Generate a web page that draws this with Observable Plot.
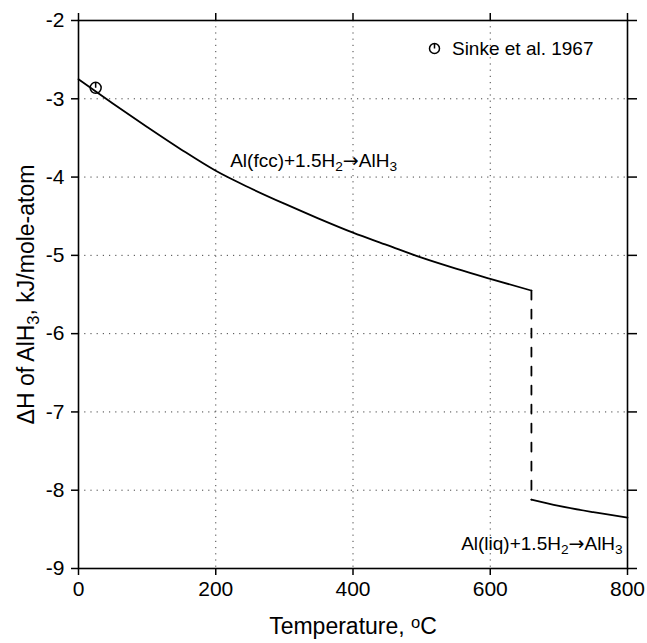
<!DOCTYPE html>
<html>
<head>
<meta charset="utf-8">
<script src="https://cdn.jsdelivr.net/npm/d3@7"></script>
<script src="https://cdn.jsdelivr.net/npm/@observablehq/plot@0.6"></script>
<style>
  html, body { margin: 0; padding: 0; background: #fff; }
  g[aria-label="x-axis tick label"], g[aria-label="y-axis tick label"] { font-size: 21px; }
</style>
</head>
<body>
<div id="chart"></div>
<script>
// ---- data ----
const fccT = [0, 50, 100, 150, 200, 250, 300, 350, 400, 450, 500, 550, 600, 660];
const fccH = [-2.75, -3.06, -3.36, -3.65, -3.92, -4.14, -4.34, -4.53, -4.71, -4.87, -5.03, -5.17, -5.30, -5.45];
const liqT = [660, 700, 750, 800];
const liqH = [-8.12, -8.20, -8.28, -8.35];
const sinkeT = [25];
const sinkeH = [-2.86];
const xTicks = [0, 200, 400, 600, 800];
const yTicks = [-9, -8, -7, -6, -5, -4, -3, -2];
const fccLabel = {T: 221, H: -3.79, text: "Al(fcc)+1.5H_{2}→AlH_{3}"};
const liqLabel = {T: 793, H: -8.686, text: "Al(liq)+1.5H_{2}→AlH_{3}"};
const legendText = "Sinke et al. 1967";
const xTitle = "Temperature, ^{o}C";
const yTitle = "ΔH of AlH_{3}, kJ/mole-atom";

// ---- tables built from the arrays ----
const fcc = fccT.map((t, i) => ({T: t, H: fccH[i]}));
const liq = liqT.map((t, i) => ({T: t, H: liqH[i]}));
const jump = [fcc[fcc.length - 1], liq[0]];
const sinke = sinkeT.map((t, i) => ({T: t, H: sinkeH[i]}));

// circle with a short vertical bar from centre to top
const barCircle = {
  draw(ctx, size) {
    const r = Math.sqrt(size / Math.PI);
    ctx.moveTo(r, 0);
    ctx.arc(0, 0, r, 0, 2 * Math.PI);
    ctx.moveTo(0, 0);
    ctx.lineTo(0, -r);
  }
};

const fmt = d => String(d);
const gridStyle = {stroke: "#444", strokeOpacity: 1, strokeWidth: 1, strokeDasharray: "1.2,5"};

const chart = Plot.plot({
  width: 647,
  height: 643,
  marginLeft: 78,
  marginRight: 20,
  marginTop: 20,
  marginBottom: 75,
  x: {domain: [0, 800]},
  y: {domain: [-9, -2]},
  style: {fontFamily: "'Liberation Sans', Arial, Helvetica, sans-serif", fontSize: "21px", background: "white", color: "black"},
  marks: [
    Plot.gridX(xTicks, gridStyle),
    Plot.gridY(yTicks, gridStyle),
    Plot.axisX({ticks: xTicks, tickSize: 7, tickPadding: 6, tickFormat: fmt, label: null, strokeWidth: 1.5, fontSize: 21}),
    Plot.axisX({anchor: "top", ticks: xTicks, tickSize: 8, tickFormat: () => "", label: null, strokeWidth: 1.5}),
    Plot.axisY({ticks: yTicks, tickSize: 7, tickPadding: 7, tickFormat: fmt, label: null, strokeWidth: 1.5, fontSize: 21}),
    Plot.axisY({anchor: "right", ticks: yTicks, tickSize: 9, tickFormat: () => "", label: null, strokeWidth: 1.5}),
    Plot.frame({stroke: "black", strokeWidth: 1.6}),
    Plot.line(fcc, {x: "T", y: "H", stroke: "black", strokeWidth: 1.8, curve: "monotone-x"}),
    Plot.line(jump, {x: "T", y: "H", stroke: "black", strokeWidth: 1.8, strokeDasharray: "9,10"}),
    Plot.line(liq, {x: "T", y: "H", stroke: "black", strokeWidth: 1.8, curve: "monotone-x"}),
    Plot.dot(sinke, {x: "T", y: "H", r: 5.5, symbol: barCircle, stroke: "black", strokeWidth: 1.5, fill: "none"}),
    // legend
    Plot.dot([legendText], {frameAnchor: "top-right", dx: -193, dy: 28, r: 5, symbol: barCircle, stroke: "black", strokeWidth: 1.5, fill: "none"}),
    Plot.text([legendText], {frameAnchor: "top-right", dx: -34, dy: 28, textAnchor: "end", lineAnchor: "middle", fontSize: 19}),
    // curve labels
    Plot.text([fccLabel], {x: "T", y: "H", text: "text", textAnchor: "start", lineAnchor: "middle", fontSize: 19}),
    Plot.text([liqLabel], {x: "T", y: "H", text: "text", textAnchor: "end", lineAnchor: "middle", fontSize: 19}),
    // axis titles
    Plot.text([xTitle], {frameAnchor: "bottom", dy: 58, textAnchor: "middle", lineAnchor: "middle", fontSize: 23}),
    Plot.text([yTitle], {frameAnchor: "left", dx: -52, rotate: -90, textAnchor: "middle", lineAnchor: "middle", fontSize: 23})
  ]
});

// turn _{x} / ^{x} markers into real sub/superscript tspans; draw arrows in DejaVu Sans
function richify(svg) {
  svg.querySelectorAll("text").forEach(t => {
    const s = t.textContent;
    if (t.children.length > 0 || !/[_^]\{|→/.test(s)) return;
    t.textContent = "";
    const re = /([_^])\{([^}]*)\}|(→)/g;
    let last = 0, m;
    const add = (str, kind) => {
      const ts = document.createElementNS("http://www.w3.org/2000/svg", "tspan");
      ts.textContent = str;
      if (kind === "_" || kind === "^") {
        ts.setAttribute("baseline-shift", kind === "_" ? "-28%" : "38%");
        ts.setAttribute("font-size", "72%");
      } else if (kind === "arrow") {
        ts.setAttribute("font-family", "'DejaVu Sans', sans-serif");
      }
      t.appendChild(ts);
    };
    while ((m = re.exec(s))) {
      if (m.index > last) add(s.slice(last, m.index));
      if (m[3]) add(m[3], "arrow"); else add(m[2], m[1]);
      last = re.lastIndex;
    }
    if (last < s.length) add(s.slice(last));
  });
}
richify(chart);
document.getElementById("chart").appendChild(chart);
</script>
</body>
</html>
